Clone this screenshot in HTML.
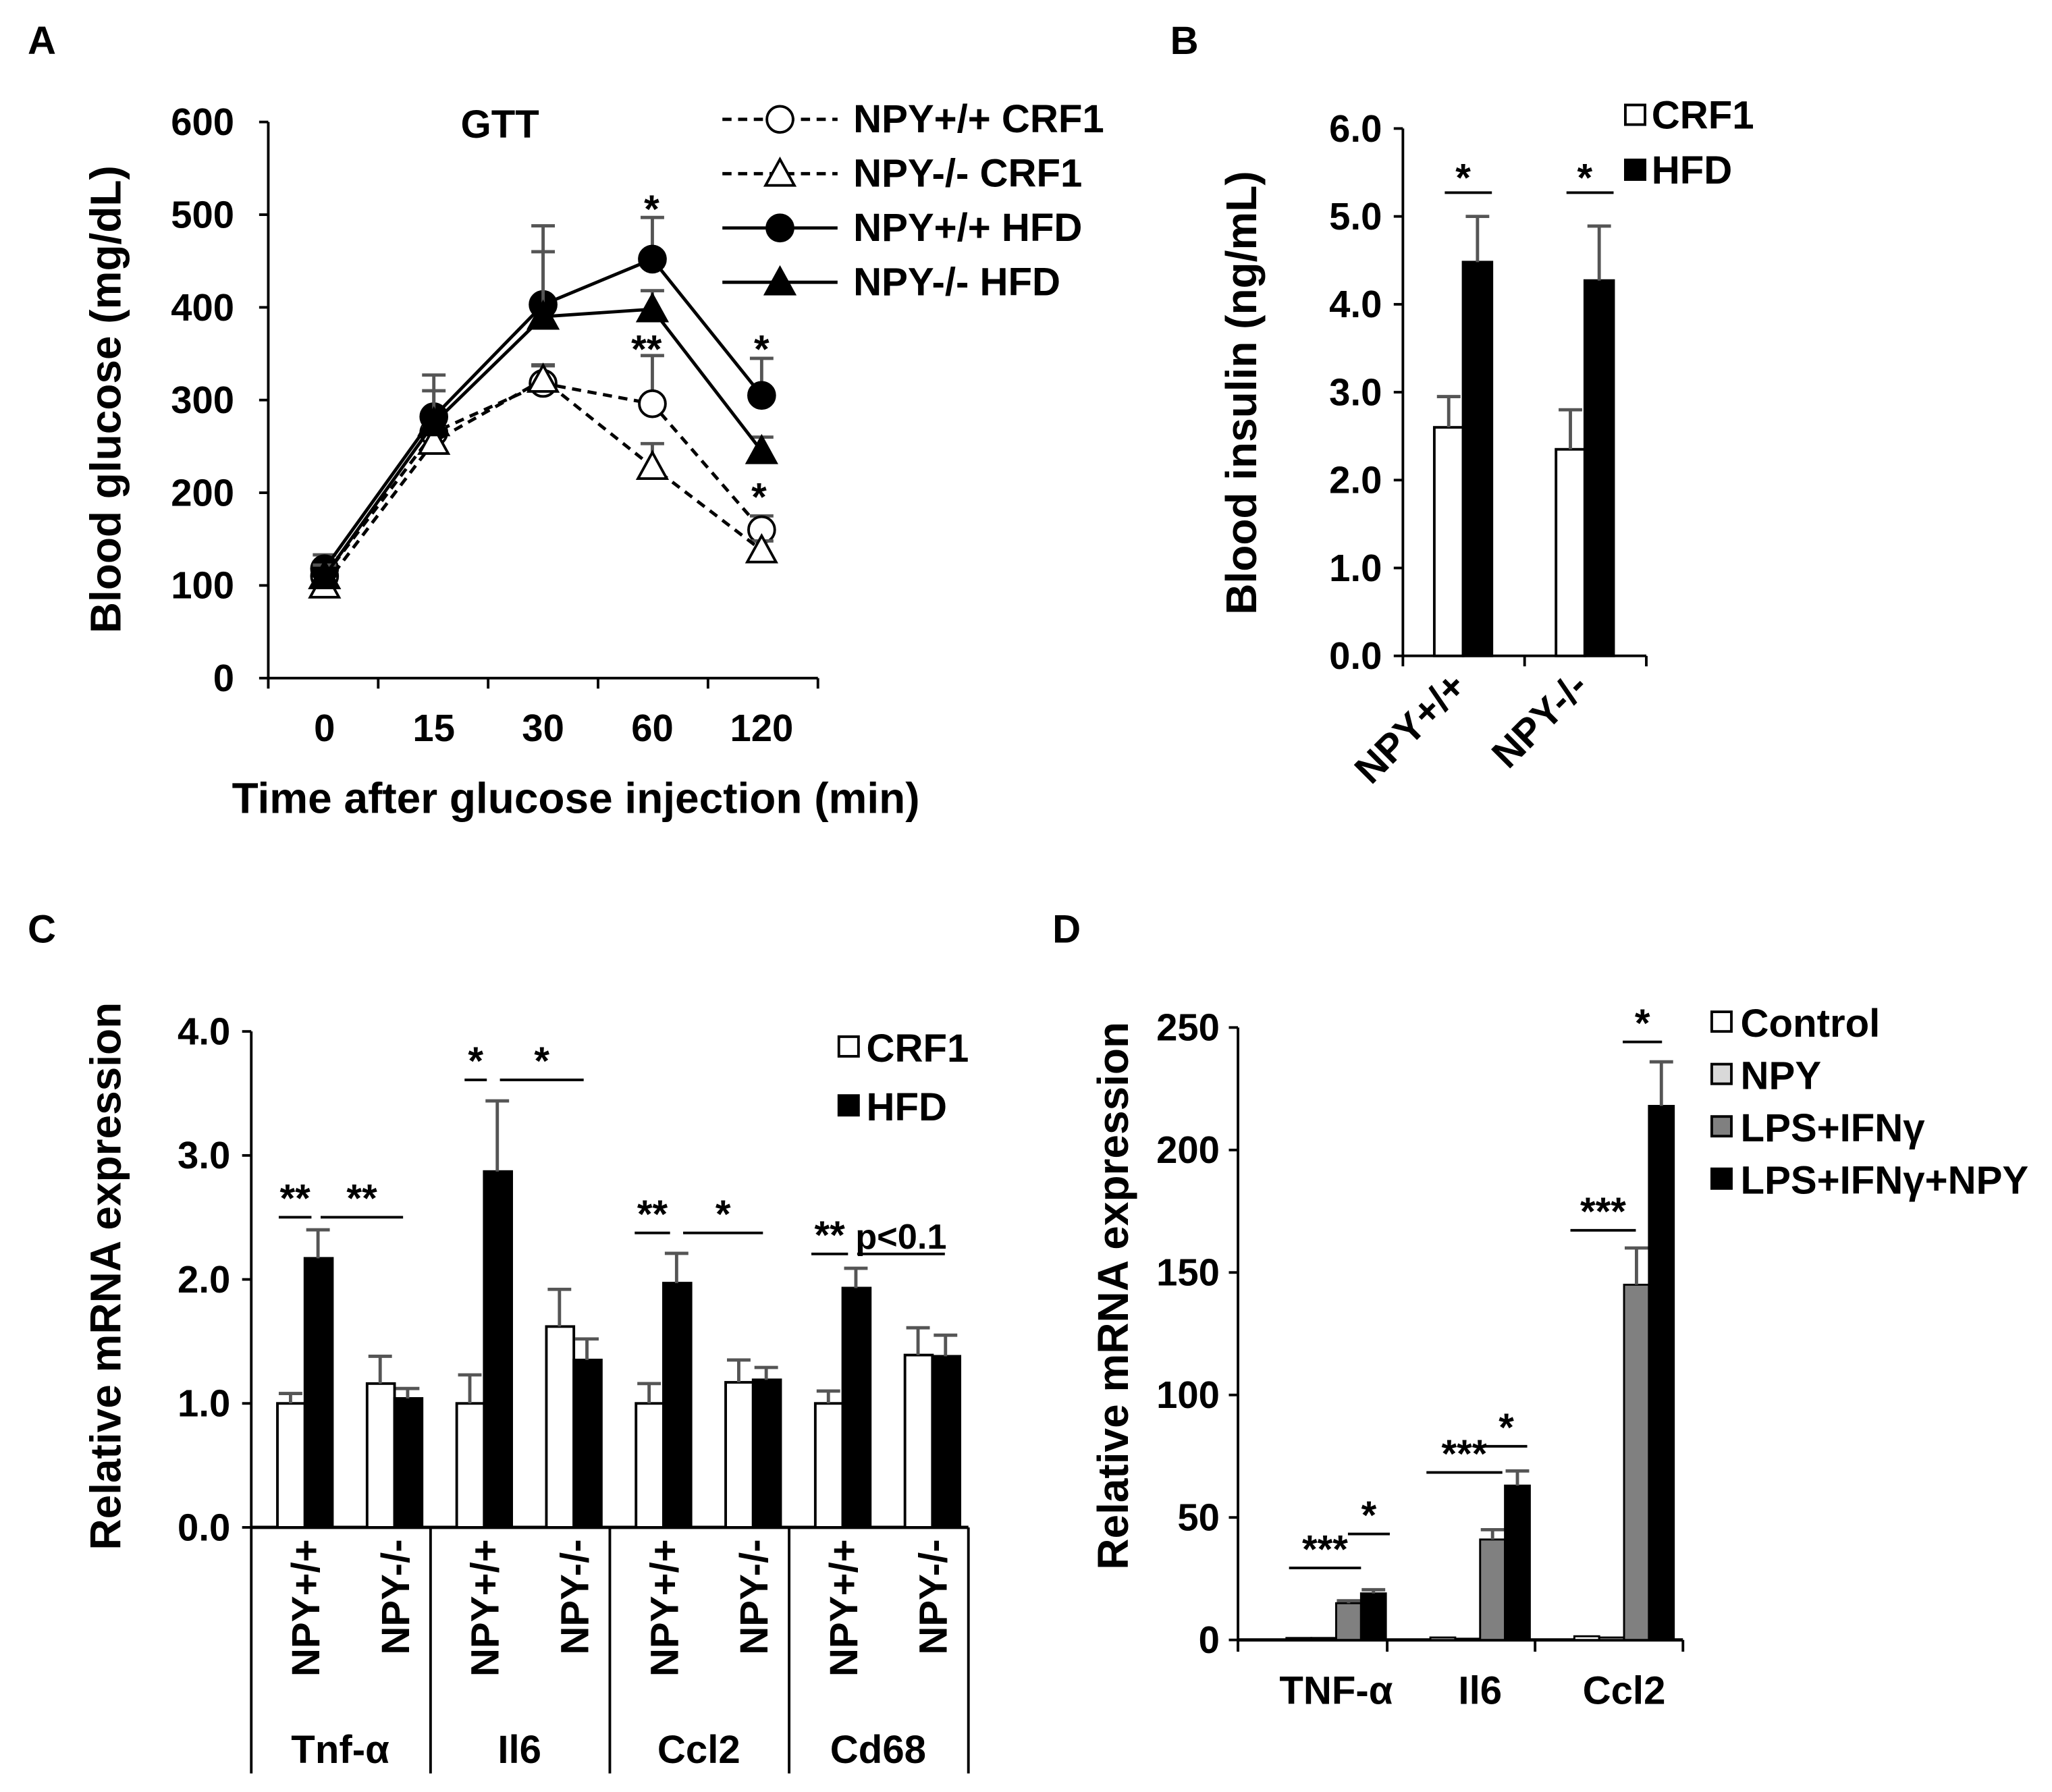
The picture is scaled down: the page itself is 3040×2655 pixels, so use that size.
<!DOCTYPE html>
<html><head><meta charset="utf-8"><style>
html,body{margin:0;padding:0;background:#fff}
svg{display:block}
text{font-family:"Liberation Sans",Arial,sans-serif;font-weight:bold;fill:#000}
</style></head><body>
<svg id="fig" width="3040" height="2655" viewBox="0 0 1568 1369" xmlns="http://www.w3.org/2000/svg"></svg>
<script>
// Panel A data
const gttTimes = ["0","15","30","60","120"];
const gttTicks = [0,100,200,300,400,500,600];
const wtCrf = [110,265,318,296,160];
const wtCrfErr = [15,20,20,52,15];
const koCrf = [100,255,322,228,138];
const koCrfErr = [10,15,15,25,10];
const wtHfd = [118,282,403,452,305];
const wtHfdErr = [15,45,85,45,40];
const koHfd = [110,275,390,398,245];
const koHfdErr = [12,35,70,20,15];
// Panel B data
const insGroups = ["NPY+/+","NPY-/-"];
const insTicks = [0,1,2,3,4,5,6];
const insCrf = [2.6,2.35];
const insCrfErr = [0.35,0.45];
const insHfd = [4.48,4.27];
const insHfdErr = [0.52,0.62];
// Panel C data
const cGenes = ["Tnf-\u03b1","Il6","Ccl2","Cd68"];
const cTicks = [0,1,2,3,4];
const cCrf = [1.0,1.16,1.0,1.62,1.0,1.17,1.0,1.39];
const cCrfErr = [0.08,0.22,0.23,0.3,0.16,0.18,0.1,0.22];
const cHfd = [2.17,1.04,2.87,1.35,1.97,1.19,1.93,1.38];
const cHfdErr = [0.23,0.08,0.57,0.17,0.24,0.1,0.16,0.17];
// Panel D data
const dGenes = ["TNF-\u03b1","Il6","Ccl2"];
const dTicks = [0,50,100,150,200,250];
const dControl = [0.8,1,1.5];
const dNpy = [0.8,0.5,1];
const dLps = [15,41,145];
const dLpsNpy = [19,63,218];
const dLpsErr = [1,4,15];
const dLpsNpyErr = [1.5,6,18];

const svg = document.getElementById('fig');
const NS = "http://www.w3.org/2000/svg";
function mk(tag, attrs, name, parent){
  const e = document.createElementNS(NS, tag);
  for (const k in attrs) e.setAttribute(k, attrs[k]);
  
  
  (parent||svg).appendChild(e);
  return e;
}
function txt(x,y,s,size,name,anchor,extra){
  const t = mk('text', Object.assign({x:x,y:y,'font-size':size,'text-anchor':anchor||'middle'}, extra||{}), name);
  t.textContent = s; return t;
}
function line(x1,y1,x2,y2,name,w,col){
  return mk('line',{x1:x1,y1:y1,x2:x2,y2:y2,stroke:col||'#000','stroke-width':w||2},name);
}
function errBar(x,yTop,yErr,name){
  line(x,yTop,x,yErr,name,2.5,'#555');
  line(x-9,yErr,x+9,yErr,name+'-cap',2.5,'#555');
}
const TK=29, TT=33, LG=30, SG=30;

// Panel letters
txt(32,41,"A",30,"panel-label-a");
txt(905,41,"B",30,"panel-label-b");
txt(32,720,"C",30,"panel-label-c");
txt(815,720,"D",30,"panel-label-d");

// ===== Panel A =====
const aX0=205, aY0=518, aYtop=93;
const ay = v => aY0 - (v/600)*(aY0-aYtop);
const ax = i => 248 + i*83.5;
line(aX0,aYtop,aX0,aY0,"a-y-axis",2);
line(aX0,aY0,625,aY0,"a-x-axis",2);
gttTicks.forEach(v=>{ line(aX0-7,ay(v),aX0,ay(v),"a-y-tick",2); txt(aX0-26,ay(v)+10,String(v),TK,"a-y-tick-label","end"); });
for(let i=0;i<=5;i++){ line(205+i*84,aY0,205+i*84,aY0+8,"a-x-tick",2); }
gttTimes.forEach((t,i)=>txt(ax(i),566,t,TK,"a-x-tick-label"));
txt(440,621,"Time after glucose injection (min)",TT,"a-x-axis-title");
txt(92,305,"Blood glucose (mg/dL)",TT,"a-y-axis-title","middle",{transform:"rotate(-90 92 305)"});
txt(382,105,"GTT",30,"a-chart-title");

function series(vals,errs,dashed,marker,filled,name){
  const pts = vals.map((v,i)=>ax(i)+","+ay(v)).join(" ");
  vals.forEach((v,i)=>errBar(ax(i),ay(v),ay(v+errs[i]),name+"-error"));
  mk('polyline',{points:pts,fill:'none',stroke:'#000','stroke-width':2.5,'stroke-dasharray':dashed?'7,5':'none'},name+"-line");
  vals.forEach((v,i)=>drawMarker(ax(i),ay(v),marker,filled,name+"-point"));
}
function drawMarker(x,y,marker,filled,name){
  if(marker==='c') mk('circle',{cx:x,cy:y,r:10,fill:filled?'#000':'#fff',stroke:'#000','stroke-width':2},name);
  else mk('polygon',{points:`${x},${y-11} ${x-11},${y+9} ${x+11},${y+9}`,fill:filled?'#000':'#fff',stroke:'#000','stroke-width':2},name);
}
series(wtCrf,wtCrfErr,true,'c',false,"npy-wt-crf1");
series(koCrf,koCrfErr,true,'t',false,"npy-ko-crf1");
series(wtHfd,wtHfdErr,false,'c',true,"npy-wt-hfd");
series(koHfd,koHfdErr,false,'t',true,"npy-ko-hfd");
[["NPY+/+ CRF1",true,'c',false],["NPY-/- CRF1",true,'t',false],["NPY+/+ HFD",false,'c',true],["NPY-/- HFD",false,'t',true]].forEach((l,i)=>{
  const y=91+i*41.5;
  mk('line',{x1:552,y1:y,x2:640,y2:y,stroke:'#000','stroke-width':2.5,'stroke-dasharray':l[1]?'7,5':'none'},"a-legend-line");
  drawMarker(596,y,l[2],l[3],"a-legend-marker");
  txt(652,y+10,l[0],LG,"a-legend-label","start");
});
txt(498,170,"*",SG,"a-sig-60-hfd");
txt(494,277,"**",SG,"a-sig-60-crf");
txt(582,277,"*",SG,"a-sig-120-hfd");
txt(580,390,"*",SG,"a-sig-120-crf");

// ===== Panel B =====
const bX0=1072, bY0=501, bYtop=98;
const by = v => bY0 - (v/6)*(bY0-bYtop);
line(bX0,bYtop,bX0,bY0,"b-y-axis",2);
line(bX0,bY0,1258,bY0,"b-x-axis",2);
insTicks.forEach(v=>{ line(bX0-7,by(v),bX0,by(v),"b-y-tick",2); txt(bX0-16,by(v)+10,v.toFixed(1),TK,"b-y-tick-label","end"); });
[1072,1165,1258].forEach(x=>line(x,bY0,x,bY0+8,"b-x-tick",2));
insGroups.forEach((g,i)=>{
  const gx = 1096 + i*93;
  mk('rect',{x:gx,y:by(insCrf[i]),width:22,height:bY0-by(insCrf[i]),fill:'#fff',stroke:'#000','stroke-width':2},"b-bar-crf1");
  errBar(gx+11,by(insCrf[i]),by(insCrf[i]+insCrfErr[i]),"b-crf1-error");
  mk('rect',{x:gx+22,y:by(insHfd[i]),width:22,height:bY0-by(insHfd[i]),fill:'#000',stroke:'#000','stroke-width':2},"b-bar-hfd");
  errBar(gx+33,by(insHfd[i]),by(insHfd[i]+insHfdErr[i]),"b-hfd-error");
  const lx=gx+26, ly=526;
  txt(lx,ly,g,30,"b-x-tick-label","end",{transform:`rotate(-45 ${lx} ${ly})`});
  line(gx+8,147,gx+44,147,"b-sig-line",2);
  txt(gx+22,146,"*",SG,"b-sig-star");
});
txt(960,300,"Blood insulin (ng/mL)",TT,"b-y-axis-title","middle",{transform:"rotate(-90 960 300)"});
mk('rect',{x:1242,y:80,width:15,height:15,fill:'#fff',stroke:'#000','stroke-width':2},"b-legend-swatch-crf1");
txt(1262,98,"CRF1",LG,"b-legend-label-crf1","start");
mk('rect',{x:1242,y:122,width:15,height:15,fill:'#000',stroke:'#000','stroke-width':2},"b-legend-swatch-hfd");
txt(1262,140,"HFD",LG,"b-legend-label-hfd","start");

// ===== Panel C =====
const cX0=192, cY0=1167, cYtop=788;
const cy = v => cY0 - (v/4)*(cY0-cYtop);
line(cX0,cYtop,cX0,1355,"c-y-axis",2);
line(cX0,cY0,740,cY0,"c-x-axis",2.5);
cTicks.forEach(v=>{ line(cX0-7,cy(v),cX0,cy(v),"c-y-tick",2); txt(cX0-16,cy(v)+10,v.toFixed(1),TK,"c-y-tick-label","end"); });
cGenes.forEach((g,gi)=>{
  const sx = 192 + gi*137;
  line(sx+137,cY0,sx+137,1355,"c-table-divider",2);
  txt(sx+68,1347,g,30,"c-gene-label");
  ["NPY+/+","NPY-/-"].forEach((lab,k)=>{
    const i = gi*2+k;
    const bx = sx + 20 + k*68.5;
    mk('rect',{x:bx,y:cy(cCrf[i]),width:21,height:cY0-cy(cCrf[i]),fill:'#fff',stroke:'#000','stroke-width':2},"c-bar-crf1");
    errBar(bx+10,cy(cCrf[i]),cy(cCrf[i]+cCrfErr[i]),"c-crf1-error");
    mk('rect',{x:bx+21,y:cy(cHfd[i]),width:21,height:cY0-cy(cHfd[i]),fill:'#000',stroke:'#000','stroke-width':2},"c-bar-hfd");
    errBar(bx+31,cy(cHfd[i]),cy(cHfd[i]+cHfdErr[i]),"c-hfd-error");
    const lx=bx+32, ly=1176;
    txt(lx,ly,lab,30,"c-x-tick-label","end",{transform:`rotate(-90 ${lx} ${ly})`});
  });
});
txt(92,975,"Relative mRNA expression",TT,"c-y-axis-title","middle",{transform:"rotate(-90 92 975)"});
mk('rect',{x:641,y:792,width:15,height:15,fill:'#fff',stroke:'#000','stroke-width':2},"c-legend-swatch-crf1");
txt(662,811,"CRF1",LG,"c-legend-label-crf1","start");
mk('rect',{x:641,y:837,width:15,height:15,fill:'#000',stroke:'#000','stroke-width':2},"c-legend-swatch-hfd");
txt(662,856,"HFD",LG,"c-legend-label-hfd","start");
[[213,238,930,"**"],[245,308,930,"**"],[355,372,825,"*"],[382,446,825,"*"],[485,512,942,"**"],[522,583,942,"*"],[620,648,958,"**"],[655,722,958,"p<0.1"]].forEach(s=>{
  line(s[0],s[2],s[1],s[2],"c-sig-line",2);
  txt((s[0]+s[1])/2,s[2]-4,s[3],s[3]==="p<0.1"?27:SG,"c-sig-label");
});

// ===== Panel D =====
const dX0=946, dY0=1253, dYtop=785;
const dy = v => dY0 - (v/250)*(dY0-dYtop);
line(dX0,dYtop,dX0,dY0+8,"d-y-axis",2);
line(dX0,dY0,1286,dY0,"d-x-axis",2.5);
dTicks.forEach(v=>{ line(dX0-7,dy(v),dX0,dy(v),"d-y-tick",2); txt(dX0-14,dy(v)+10,String(v),TK,"d-y-tick-label","end"); });
[946,1060,1173,1286].forEach(x=>line(x,dY0,x,dY0+9,"d-x-tick",2));
const dSeries=[[dControl,null,'#fff'],[dNpy,null,'#d9d9d9'],[dLps,dLpsErr,'#808080'],[dLpsNpy,dLpsNpyErr,'#000']];
const dNames=["control","npy","lps-ifng","lps-ifng-npy"];
dGenes.forEach((g,gi)=>{
  const gx = 983 + gi*110;
  dSeries.forEach((s,k)=>{
    const v=s[0][gi], bx=gx+k*19;
    mk('rect',{x:bx,y:dy(v),width:19,height:dY0-dy(v),fill:s[2],stroke:'#000','stroke-width':1.5},"d-bar-"+dNames[k]);
    if(s[1]) errBar(bx+9.5,dy(v),dy(v+s[1][gi]),"d-"+dNames[k]+"-error");
  });
  txt(1003+gi*110+18,1302,g,30,"d-x-tick-label");
});
txt(862,990,"Relative mRNA expression",TT,"d-y-axis-title","middle",{transform:"rotate(-90 862 990)"});
[["Control",'#fff'],["NPY",'#d9d9d9'],["LPS+IFN\u03b3",'#808080'],["LPS+IFN\u03b3+NPY",'#000']].forEach((l,i)=>{
  const y=781+i*40;
  mk('rect',{x:1308,y:y-8,width:15,height:15,fill:l[1],stroke:'#000','stroke-width':2},"d-legend-swatch");
  txt(1330,y+11,l[0],LG,"d-legend-label","start");
});
[[985,1040,1198,"***"],[1030,1062,1172,"*"],[1090,1148,1125,"***"],[1135,1167,1105,"*"],[1200,1250,940,"***"],[1240,1270,796,"*"]].forEach(s=>{
  line(s[0],s[2],s[1],s[2],"d-sig-line",2);
  txt((s[0]+s[1])/2,s[2]-4,s[3],SG,"d-sig-label");
});
</script>
</body></html>
